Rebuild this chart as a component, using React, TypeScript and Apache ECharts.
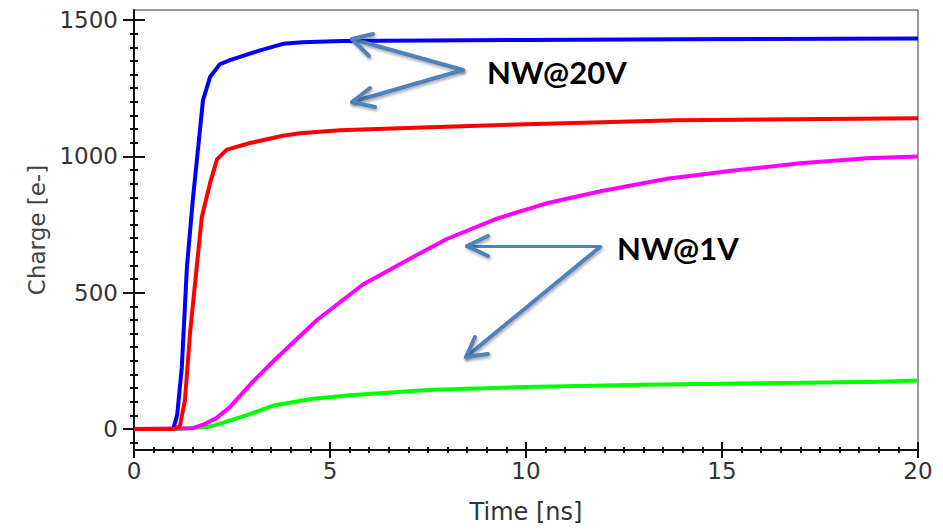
import React, { useEffect, useRef } from "react";
import * as echarts from "echarts";

// Time [ns], Charge [e-]
const blueNW20: [number, number][] = [
  [0, 0], [1.0, 0], [1.1, 50], [1.22, 227], [1.35, 594], [1.5, 840], [1.63, 1023],
  [1.76, 1206], [1.94, 1291], [2.19, 1338], [2.45, 1353], [3.13, 1385], [3.8, 1413],
  [4.3, 1419], [5.3, 1423], [10, 1427], [14, 1430], [20, 1432],
];
const redNW20: [number, number][] = [
  [0, 0], [1.0, 0], [1.17, 10], [1.3, 106], [1.43, 352], [1.6, 594], [1.73, 777],
  [1.94, 902], [2.12, 990], [2.37, 1025], [2.96, 1049], [3.8, 1076], [4.23, 1085],
  [5.25, 1096], [7.55, 1107], [10, 1118], [13.85, 1133], [20, 1140],
];
const magentaNW1: [number, number][] = [
  [0, 0], [1.5, 3], [1.8, 18], [2.1, 40], [2.45, 81], [3.04, 175], [3.6, 255],
  [4.23, 340], [4.67, 400], [5.84, 530], [7.12, 631], [7.98, 697], [9.26, 772],
  [10.5, 827], [11.9, 872], [13.6, 918], [15.3, 948], [17, 975], [18.7, 993], [20, 1000],
];
const greenNW1: [number, number][] = [
  [0, 0], [1.1, 0], [1.86, 7], [2.1, 15], [2.88, 51], [3.55, 86], [4.57, 111],
  [5.5, 124], [7.5, 143], [10, 154], [13, 162], [16, 168], [19, 173], [20, 178],
];

const xMajorTicks = [0, 5, 10, 15, 20];
const yMajorTicks = [0, 500, 1000, 1500];
const xMinorStep = 0.5;
const yMinorStep = 50;

const X_MIN = 0;
const X_MAX = 20;
const Y_MIN = -77;
const Y_MAX = 1537;

function stepValues(from: number, to: number, step: number): number[] {
  const out: number[] = [];
  for (let v = from; v <= to + 1e-9; v += step) out.push(Math.round(v * 1000) / 1000);
  return out;
}

const AXIS_COLOR = "#111";
const LABEL_COLOR = "#333";
const ARROW_COLOR = "#4F81BD";

export default function App() {
  const ref = useRef<HTMLDivElement>(null);

  useEffect(() => {
    if (!ref.current) return;
    const chart = echarts.init(ref.current, undefined, { renderer: "svg" });

    const xMinor = stepValues(X_MIN, X_MAX, xMinorStep);
    const yMinor = stepValues(-50, 1500, yMinorStep);

    const labelStyle = {
      color: LABEL_COLOR,
      fontFamily: "DejaVu Sans",
      fontSize: 23,
      formatter: (v: number) => String(v),
    };

    const mkX = (ticks: number[], len: number, inside: boolean, main: boolean) => ({
      type: "value",
      min: X_MIN,
      max: X_MAX,
      position: "bottom",
      axisLine: { show: main, onZero: false, lineStyle: { color: AXIS_COLOR, width: 2 } },
      axisTick: { show: true, inside, length: len, customValues: ticks, lineStyle: { color: AXIS_COLOR, width: 2 } },
      axisLabel: main
        ? { show: true, customValues: xMajorTicks, margin: 9, ...labelStyle }
        : { show: false },
      splitLine: { show: false },
      ...(main
        ? {
            name: "Time [ns]",
            nameLocation: "middle",
            nameGap: 50,
            nameTextStyle: { color: LABEL_COLOR, fontFamily: "DejaVu Sans", fontSize: 24 },
          }
        : {}),
    });

    const mkY = (ticks: number[], len: number, inside: boolean, main: boolean) => ({
      type: "value",
      min: Y_MIN,
      max: Y_MAX,
      position: "left",
      axisLine: { show: main, onZero: false, lineStyle: { color: AXIS_COLOR, width: 2 } },
      axisTick: { show: true, inside, length: len, customValues: ticks, lineStyle: { color: AXIS_COLOR, width: 2 } },
      axisLabel: main
        ? { show: true, customValues: yMajorTicks, margin: 16, ...labelStyle }
        : { show: false },
      splitLine: { show: false },
      ...(main
        ? {
            name: "Charge [e-]",
            nameLocation: "middle",
            nameGap: 80,
            nameRotate: 90,
            nameTextStyle: { color: "#444", fontFamily: "DejaVu Sans", fontSize: 23 },
          }
        : {}),
    });

    const shadow = { shadowBlur: 3, shadowColor: "rgba(0,0,0,0.35)", shadowOffsetX: 1, shadowOffsetY: 2 };
    const arrowHead = (tip: number[], a: number[], b: number[]) => ({
      type: "polyline",
      shape: { points: [a, tip, b] },
      style: { stroke: ARROW_COLOR, lineWidth: 4, fill: null, lineCap: "round", lineJoin: "round", ...shadow },
      z: 100,
    });
    const arrowShaft = (from: number[], to: number[]) => ({
      type: "line",
      shape: { x1: from[0], y1: from[1], x2: to[0], y2: to[1] },
      style: { stroke: ARROW_COLOR, lineWidth: 4, lineCap: "round", ...shadow },
      z: 100,
    });

    const lineSeries = (name: string, data: [number, number][], color: string) => ({
      name,
      type: "line",
      data,
      showSymbol: false,
      symbol: "none",
      xAxisIndex: 0,
      yAxisIndex: 0,
      lineStyle: { color, width: 4 },
      itemStyle: { color },
      clip: true,
    });

    chart.setOption({
      animation: false,
      backgroundColor: "#fff",
      grid: {
        left: 134,
        right: 25,
        top: 10,
        bottom: 81,
        show: true,
        borderColor: "#333",
        borderWidth: 1,
        backgroundColor: "#fff",
        outerBoundsMode: "none",
      },
      xAxis: [
        mkX(xMajorTicks, 8, false, true),
        mkX(xMajorTicks, 8, true, false),
        mkX(xMinor, 3, false, false),
        mkX(xMinor, 3, true, false),
      ],
      yAxis: [
        mkY(yMajorTicks, 11, false, true),
        mkY(yMajorTicks, 11, true, false),
        mkY(yMinor, 4, false, false),
        mkY(yMinor, 4, true, false),
      ],
      series: [
        lineSeries("NW@1V low", greenNW1, "#00FF00"),
        lineSeries("NW@1V", magentaNW1, "#FF00FF"),
        lineSeries("NW@20V", blueNW20, "#0000FF"),
        lineSeries("NW@20V low", redNW20, "#FF0000"),
      ],
      graphic: [
        arrowShaft([463, 70], [352, 39]),
        arrowHead([352, 39], [373, 34], [369, 56]),
        arrowShaft([463, 70], [352, 102]),
        arrowHead([352, 102], [370, 88], [375, 107]),
        arrowShaft([600, 247], [467, 246]),
        arrowHead([467, 246], [488, 236], [488, 256]),
        arrowShaft([600, 247], [466, 357]),
        arrowHead([466, 357], [475, 337], [488, 354]),
        {
          type: "text",
          x: 487,
          y: 72,
          z: 101,
          style: { text: "NW@20V", fill: "#000", font: "bold 31px Lato", textVerticalAlign: "middle", verticalAlign: "middle" },
        },
        {
          type: "text",
          x: 617,
          y: 248,
          z: 101,
          style: { text: "NW@1V", fill: "#000", font: "bold 31px Lato", textVerticalAlign: "middle", verticalAlign: "middle" },
        },
      ],
    });

    return () => chart.dispose();
  }, []);

  return (
    <div
      ref={ref}
      style={{ position: "fixed", left: 0, top: 0, width: 943, height: 531, background: "#fff" }}
    />
  );
}
